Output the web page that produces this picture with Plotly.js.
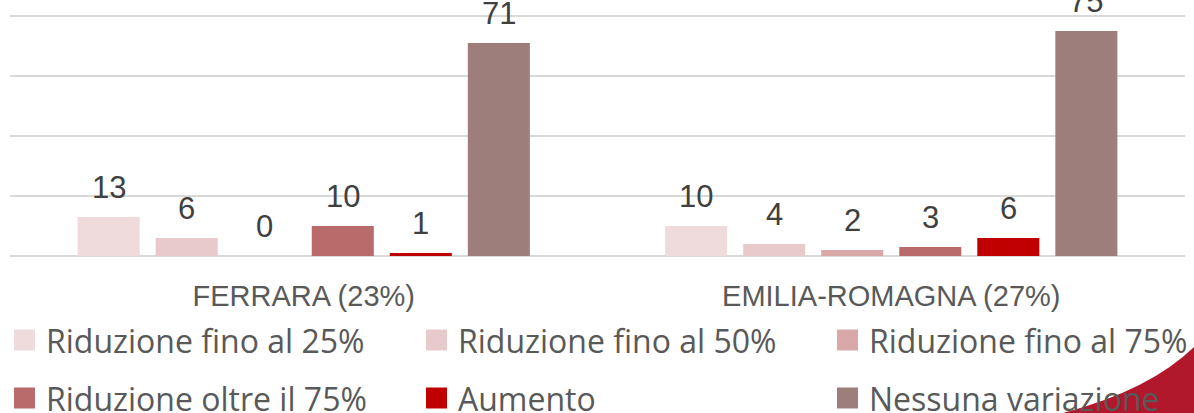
<!DOCTYPE html>
<html>
<head>
<meta charset="utf-8">
<script src="https://cdn.plot.ly/plotly-3.0.1.min.js"></script>
<style>
  html, body { margin: 0; padding: 0; background: #ffffff; }
  #chart { width: 1194px; height: 413px; }
</style>
</head>
<body>
<div id="chart"></div>
<script>
// ---- Data ----
const categories = ["FERRARA (23%)", "EMILIA-ROMAGNA (27%)"];
const seriesNames = [
  "Riduzione fino al 25%",
  "Riduzione fino al 50%",
  "Riduzione fino al 75%",
  "Riduzione oltre il 75%",
  "Aumento",
  "Nessuna variazione"
];
const rid25 = [13, 10];
const rid50 = [6, 4];
const rid75 = [0, 2];
const ridOltre75 = [10, 3];
const aumento = [1, 6];
const nessuna = [71, 75];
const seriesValues = [rid25, rid50, rid75, ridOltre75, aumento, nessuna];
const seriesColors = ["#F0DBDC", "#E8CACC", "#D9A9AA", "#B96A6A", "#C00000", "#9E7E7B"];
const gridValues = [0, 20, 40, 60, 80];

// ---- Layout geometry ----
const W = 1194, H = 413;
const M = { l: 10, r: 9, t: 13, b: 157 };
const PW = W - M.l - M.r, PH = H - M.t - M.b;
const px2x = px => (px - M.l) / PW;
const py2y = py => (H - M.b - py) / PH;
const BARGAP = 0.203, GROUPGAP = 0.205;

const traces = seriesNames.map((name, i) => ({
  type: "bar",
  name: name,
  x: categories,
  y: seriesValues[i],
  marker: { color: seriesColors[i] },
  hoverinfo: "x+y+name",
  showlegend: false
}));

// data labels above bars
const annotations = [];
const n = seriesNames.length;
const slot = (1 - BARGAP) / n;
seriesValues.forEach((vals, i) => {
  vals.forEach((v, c) => {
    annotations.push({
      xref: "x", yref: "y",
      x: c + (i - (n - 1) / 2) * slot,
      y: v,
      text: String(v),
      showarrow: false,
      xanchor: "center", yanchor: "bottom",
      yshift: 10,
      font: { family: "Liberation Sans, Arial, sans-serif", size: 31, color: "#404040" }
    });
  });
});

// manual legend (two rows of three)
const legendCols = [14, 426, 837];
const legendRows = [340, 398];
const SQ = 21;
const shapes = [];
seriesNames.forEach((name, i) => {
  const col = i % 3, row = Math.floor(i / 3);
  const lx = legendCols[col], cy = legendRows[row];
  shapes.push({
    type: "rect", xref: "paper", yref: "paper",
    x0: px2x(lx), x1: px2x(lx + SQ),
    y0: py2y(cy + SQ / 2), y1: py2y(cy - SQ / 2),
    fillcolor: seriesColors[i], line: { width: 0 }, layer: "above"
  });
  annotations.push({
    xref: "paper", yref: "paper",
    x: px2x(lx + 30), y: py2y(cy),
    xanchor: "left", yanchor: "middle",
    text: name, showarrow: false,
    font: { family: "Open Sans, Noto Sans, sans-serif", size: 32, color: "#595959" }
  });
});

// decorative red corner
const cornerPts = [[1063, 413], [1150, 390], [1194, 347]];
const P = p => px2x(p[0]).toFixed(5) + "," + py2y(p[1]).toFixed(5);
shapes.unshift({
  type: "path", xref: "paper", yref: "paper",
  path: "M" + P(cornerPts[0]) + " Q" + P(cornerPts[1]) + " " + P(cornerPts[2]) +
        " L" + P([1194, 413]) + " Z",
  fillcolor: "#B2182B", line: { width: 0 }, layer: "below"
});

const layout = {
  width: W, height: H,
  margin: M,
  paper_bgcolor: "#ffffff",
  plot_bgcolor: "#ffffff",
  barmode: "group",
  bargap: BARGAP,
  bargroupgap: GROUPGAP,
  showlegend: false,
  xaxis: {
    type: "category",
    showgrid: false,
    showline: false,
    ticks: "",
    ticklabelstandoff: 20,
    tickfont: { family: "Liberation Sans, Arial, sans-serif", size: 29, color: "#595959" },
    fixedrange: true
  },
  yaxis: {
    range: [0, 81],
    tickvals: gridValues,
    showticklabels: false,
    showgrid: true,
    gridcolor: "#D9D9D9",
    gridwidth: 1.5,
    zeroline: true,
    zerolinecolor: "#D9D9D9",
    zerolinewidth: 1.5,
    showline: false,
    ticks: "",
    fixedrange: true
  },
  annotations: annotations,
  shapes: shapes
};

Plotly.newPlot("chart", traces, layout, { displayModeBar: false, staticPlot: true });
</script>
</body>
</html>
